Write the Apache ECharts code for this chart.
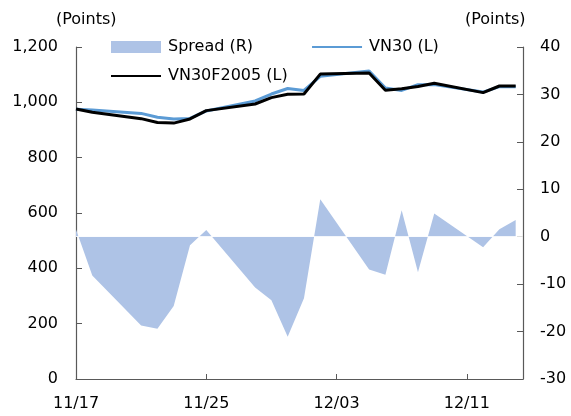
<!DOCTYPE html>
<html>
<head>
<meta charset="utf-8">
<script src="https://cdn.jsdelivr.net/npm/echarts@6/dist/echarts.min.js"></script>
<style>
html,body{margin:0;padding:0;background:#fff;}
#chart{width:571px;height:416px;}
</style>
</head>
<body>
<div id="chart"></div>
<script>
var dates = ['11/17','11/18','11/21','11/22','11/23','11/24','11/25','11/28','11/29','11/30',
             '12/01','12/02','12/05','12/06','12/07','12/08','12/09','12/12','12/13','12/14'];
var vn30 = [975, 972, 960, 946, 940, 942, 969, 1005, 1030, 1050,
            1043, 1094, 1113, 1052, 1043, 1064, 1064, 1037, 1057, 1056];
var vn30f = [976, 964, 941, 927, 925, 940, 970, 994, 1017, 1029,
             1030, 1102, 1106, 1044, 1049, 1057, 1069, 1035, 1059, 1059];
var spread = [1.5, -8.2, -18.7, -19.4, -14.6, -1.8, 1.4, -10.7, -13.4, -21.1,
              -13.0, 7.9, -6.9, -8.0, 5.6, -7.5, 4.9, -2.2, 1.6, 3.5];
var tickLabels = ['11/17', '11/25', '12/03', '12/11'];
var seriesNames = ['Spread (R)', 'VN30 (L)', 'VN30F2005 (L)'];

function dayOffset(s) {
  var p = s.split('/');
  var t = Date.UTC(2016, +p[0] - 1, +p[1]);
  var t0 = Date.UTC(2016, 10, 17);
  return Math.round((t - t0) / 86400000);
}
var xs = dates.map(dayOffset);
function pairs(vals) { return vals.map(function (v, i) { return [xs[i], v]; }); }
var tickMap = {};
tickLabels.forEach(function (l) { tickMap[dayOffset(l)] = l; });

var FONT = 'DejaVu Sans';
var chart = echarts.init(document.getElementById('chart'), null, {renderer: 'canvas'});
chart.setOption({
  animation: false,
  backgroundColor: '#fff',
  textStyle: {fontFamily: FONT},
  grid: {left: 76, right: 48, top: 47, bottom: 37, containLabel: false},
  legend: [{
    data: [
      {name: seriesNames[0], icon: 'rect'},
      {name: seriesNames[1], itemStyle: {opacity: 0}}
    ],
    left: 111, top: 39, padding: 0,
    itemWidth: 50, itemHeight: 12, itemGap: 58,
    textStyle: {fontFamily: FONT, fontSize: 16, color: '#000', padding: [0, 0, 0, 2]}
  }, {
    data: [{name: seriesNames[2], itemStyle: {opacity: 0}}],
    left: 110, top: 68, padding: 0,
    itemWidth: 50, itemHeight: 12,
    textStyle: {fontFamily: FONT, fontSize: 16, color: '#000', padding: [0, 0, 0, 2]}
  }],
  graphic: [
    {type: 'text', left: 56, top: 12, style: {text: '(Points)', fontFamily: FONT, fontSize: 16, fill: '#000'}},
    {type: 'text', left: 465, top: 12, style: {text: '(Points)', fontFamily: FONT, fontSize: 16, fill: '#000'}}
  ],
  xAxis: {
    type: 'value', min: 0, max: 27.45, interval: 8,
    splitLine: {show: false},
    axisLine: {show: true, onZero: false, lineStyle: {color: '#595959', width: 1.2}},
    axisTick: {show: true, inside: true, length: 5, lineStyle: {color: '#595959'}},
    axisLabel: {
      margin: 17, fontFamily: FONT, fontSize: 16, color: '#000',
      showMaxLabel: false,
      formatter: function (v) { return tickMap[Math.round(v)] !== undefined && Math.abs(v - Math.round(v)) < 1e-6 ? tickMap[Math.round(v)] : ''; }
    }
  },
  yAxis: [{
    type: 'value', min: 0, max: 1200, interval: 200, position: 'left',
    splitLine: {show: false},
    axisLine: {show: true, lineStyle: {color: '#595959', width: 1.2}},
    axisTick: {show: true, inside: true, length: 6, lineStyle: {color: '#595959'}},
    axisLabel: {margin: 18, fontFamily: FONT, fontSize: 16, color: '#000',
      formatter: function (v) { return v.toLocaleString('en-US'); }}
  }, {
    type: 'value', min: -30, max: 40, interval: 10, position: 'right',
    splitLine: {show: false},
    axisLine: {show: true, lineStyle: {color: '#595959', width: 1.2}},
    axisTick: {show: true, inside: true, length: 6, lineStyle: {color: '#595959'}},
    axisLabel: {margin: 17, fontFamily: FONT, fontSize: 16, color: '#000'}
  }],
  series: [{
    name: seriesNames[0], type: 'line', yAxisIndex: 1,
    data: pairs(spread), symbol: 'none', color: '#AEC3E6',
    lineStyle: {width: 0, color: '#AEC3E6'},
    areaStyle: {color: '#AEC3E6', opacity: 1},
    markLine: {silent: true, symbol: ['none', 'none'], label: {show: false},
      lineStyle: {color: '#ffffff', width: 1, type: 'solid', opacity: 0.8},
      data: [{yAxis: 0}]},
    z: 1
  }, {
    name: seriesNames[1], type: 'line', yAxisIndex: 0,
    data: pairs(vn30), symbol: 'none', color: '#5B9BD5',
    lineStyle: {width: 3, color: '#5B9BD5'}, z: 2
  }, {
    name: seriesNames[2], type: 'line', yAxisIndex: 0,
    data: pairs(vn30f), symbol: 'none', color: '#000000',
    lineStyle: {width: 3, color: '#000000'}, z: 3
  }]
});
</script>
</body>
</html>
